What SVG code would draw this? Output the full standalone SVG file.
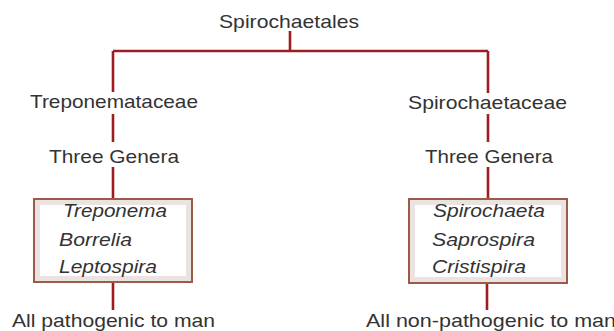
<svg xmlns="http://www.w3.org/2000/svg" width="614" height="331" viewBox="0 0 614 331">
<style>
.t{font-family:"Liberation Sans",Arial,sans-serif;font-size:19px;fill:#333}
.i{font-style:italic}
.c{fill:none;stroke:#9e1c22;stroke-width:2.6}
.box{fill:#fff;stroke:#9c5a48;stroke-width:2}
.glow{fill:none;stroke:#ebe3e1;stroke-width:5}
</style>
<rect width="614" height="331" fill="#fff"/>
<g id="connectors">
<path class="c" d="M290 31V51M113 51H488M113 51V92M488 51V93"/>
<path class="c" d="M113 114V142M113 167V199M113 282V310"/>
<path class="c" d="M488 114V142M488 167V199M487 283V310"/>
</g>
<g id="root"><text class="t" x="219" y="28" textLength="140" lengthAdjust="spacingAndGlyphs">Spirochaetales</text></g>
<g id="treponemataceae"><text class="t" x="30" y="108" textLength="168" lengthAdjust="spacingAndGlyphs">Treponemataceae</text></g>
<g id="spirochaetaceae"><text class="t" x="408" y="109" textLength="159" lengthAdjust="spacingAndGlyphs">Spirochaetaceae</text></g>
<g id="genera-left"><text class="t" x="49" y="163" textLength="130" lengthAdjust="spacingAndGlyphs">Three Genera</text></g>
<g id="genera-right"><text class="t" x="425" y="163" textLength="128" lengthAdjust="spacingAndGlyphs">Three Genera</text></g>
<g id="box-left">
<rect class="box" x="34" y="199" width="158" height="83"/>
<rect class="glow" x="37.5" y="202.5" width="151" height="76"/>
<text class="t i" x="63" y="217" textLength="104" lengthAdjust="spacingAndGlyphs">Treponema</text>
<text class="t i" x="59" y="246" textLength="73" lengthAdjust="spacingAndGlyphs">Borrelia</text>
<text class="t i" x="59" y="273" textLength="98" lengthAdjust="spacingAndGlyphs">Leptospira</text>
</g>
<g id="box-right">
<rect class="box" x="409" y="199" width="158" height="84"/>
<rect class="glow" x="412.5" y="202.5" width="151" height="77"/>
<text class="t i" x="433" y="217" textLength="112" lengthAdjust="spacingAndGlyphs">Spirochaeta</text>
<text class="t i" x="432" y="246" textLength="103" lengthAdjust="spacingAndGlyphs">Saprospira</text>
<text class="t i" x="432" y="273" textLength="94" lengthAdjust="spacingAndGlyphs">Cristispira</text>
</g>
<g id="note-left"><text class="t" x="12" y="327" textLength="203" lengthAdjust="spacingAndGlyphs">All pathogenic to man</text></g>
<g id="note-right"><text class="t" x="366" y="327" textLength="250" lengthAdjust="spacingAndGlyphs">All non-pathogenic to man</text></g>
</svg>
